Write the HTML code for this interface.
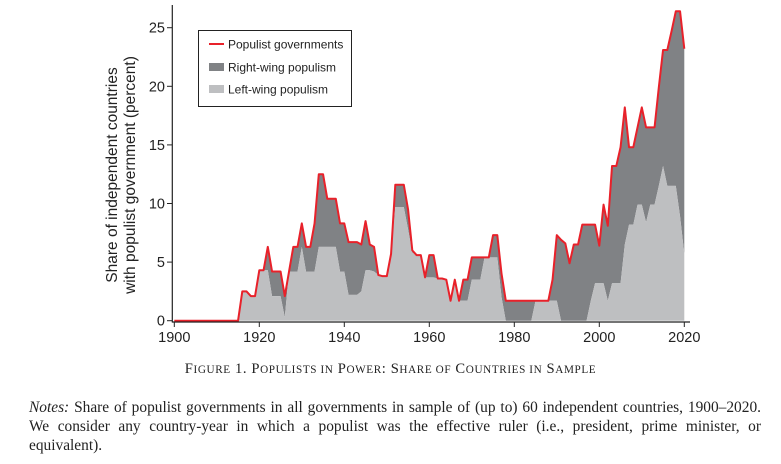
<!DOCTYPE html>
<html><head><meta charset="utf-8"><style>
body{margin:0;background:#fff;width:781px;height:464px;overflow:hidden;position:relative;font-family:"Liberation Serif",serif;}
#chart{position:absolute;left:0;top:0;}
#caption{position:absolute;left:0;width:781px;top:361px;text-align:center;font-size:14.6px;color:#222;letter-spacing:0.6px;white-space:nowrap;}
#caption .s{font-size:11.2px;}
#notes{position:absolute;left:29px;width:732px;top:399px;font-size:15.4px;line-height:18.8px;text-align:justify;color:#222;}
</style></head><body>
<svg id="chart" width="781" height="355" font-family="Liberation Sans, sans-serif"></svg>
<div id="caption">F<span class="s">IGURE</span> 1. P<span class="s">OPULISTS IN</span> P<span class="s">OWER</span>: S<span class="s">HARE OF</span> C<span class="s">OUNTRIES IN</span> S<span class="s">AMPLE</span></div>
<div id="notes"><i>Notes:</i> Share of populist governments in all governments in sample of (up to) 60 independent countries, 1900–2020. We consider any country-year in which a populist was the effective ruler (i.e., president, prime minister, or equivalent).</div>
<script>
const startYear = 1900;
const populistTotal = [0,0,0,0,0,0,0,0,0,0,0,0,0,0,0,0,
2.5,2.5,2.1,2.1,4.3,4.3,6.3,4.2,4.2,4.2,2.1,4.2,6.3,6.3,8.3,6.3,6.3,8.3,12.5,12.5,10.4,10.4,10.4,8.3,8.3,6.7,6.7,6.7,6.5,8.5,6.5,6.3,3.9,3.8,3.8,5.7,11.6,11.6,11.6,9.5,6.0,5.6,5.6,3.7,5.6,5.6,3.6,3.6,3.5,1.7,3.5,1.7,3.5,3.5,5.4,5.4,5.4,5.4,5.4,7.3,7.3,4.0,1.7,1.7,1.7,1.7,1.7,1.7,1.7,1.7,1.7,1.7,1.7,3.5,7.3,6.9,6.6,4.9,6.5,6.5,8.2,8.2,8.2,8.2,6.4,9.9,8.1,13.2,13.2,14.8,18.2,14.8,14.8,16.5,18.2,16.5,16.5,16.5,19.9,23.1,23.1,24.7,26.4,26.4,23.2];
const leftWing = [0,0,0,0,0,0,0,0,0,0,0,0,0,0,0,0,
2.5,2.5,2.1,2.1,4.3,4.3,4.3,2.1,2.1,2.1,0.3,4.2,4.2,4.2,6.3,4.2,4.2,4.2,6.3,6.3,6.3,6.3,6.3,4.2,4.2,2.2,2.2,2.2,2.5,4.3,4.3,4.2,3.9,3.8,3.8,5.7,9.7,9.7,9.7,7.8,5.8,5.6,5.6,3.7,3.7,3.7,3.6,3.6,3.5,1.7,3.5,1.7,1.7,1.7,3.5,3.5,3.5,5.4,5.4,5.4,5.4,2.0,0,0,0,0,0,0,0,1.7,1.7,1.7,1.7,1.7,1.7,0,0,0,0,0,0,0,1.7,3.2,3.2,3.2,1.7,3.2,3.2,3.2,6.5,8.2,8.2,9.9,9.9,8.4,9.9,9.9,11.5,13.2,11.5,11.5,11.5,8.9,5.7];
const xTicks = [1900,1920,1940,1960,1980,2000,2020];
const yTicks = [0,5,10,15,20,25];

const NS='http://www.w3.org/2000/svg';
const svg=document.getElementById('chart');
const X0=174.3, PX_YR=4.25, Y0=320.7, PX_U=11.72;
const xs=y=>X0+(y-1900)*PX_YR;
const ys=v=>Y0-v*PX_U;
function mk(tag,attrs){const e=document.createElementNS(NS,tag);for(const k in attrs)e.setAttribute(k,attrs[k]);svg.appendChild(e);return e;}
function areaPath(top,bottom){
  let d='';
  top.forEach((v,i)=>{d+=(i?'L':'M')+xs(startYear+i).toFixed(2)+','+ys(v).toFixed(2);});
  for(let i=bottom.length-1;i>=0;i--)d+='L'+xs(startYear+i).toFixed(2)+','+ys(bottom[i]).toFixed(2);
  return d+'Z';
}
const zeros=leftWing.map(()=>0);
const right=mk('path',{d:areaPath(populistTotal,leftWing),fill:'#808285'});


const left=mk('path',{d:areaPath(leftWing,zeros),fill:'#bebfc1'});


let ld='';populistTotal.forEach((v,i)=>{ld+=(i?'L':'M')+xs(startYear+i).toFixed(2)+','+ys(v).toFixed(2);});
const line=mk('path',{d:ld,fill:'none',stroke:'#e8212a','stroke-width':2,'stroke-linejoin':'round'});


const ya=mk('line',{x1:172.3,y1:5,x2:172.3,y2:322.5,stroke:'#222','stroke-width':1.2});


const xa=mk('line',{x1:172,y1:322,x2:690,y2:322,stroke:'#222','stroke-width':1.2});


yTicks.forEach(t=>{
  const tk=mk('line',{x1:167,y1:ys(t),x2:172.3,y2:ys(t),stroke:'#222','stroke-width':1});
  
  
  const tx=mk('text',{x:165,y:ys(t)+5,'text-anchor':'end','font-size':14.5,fill:'#222'});
  tx.textContent=t;
  
  
});
xTicks.forEach(t=>{
  const tk=mk('line',{x1:xs(t),y1:322,x2:xs(t),y2:327,stroke:'#222','stroke-width':1});
  
  
  const tx=mk('text',{x:xs(t),y:342,'text-anchor':'middle','font-size':14.5,fill:'#222'});
  tx.textContent=t;
  
  
});
const yt=mk('text',{transform:'translate(117,175) rotate(-90)','text-anchor':'middle','font-size':15.5,fill:'#222'});


const t1=document.createElementNS(NS,'tspan');t1.setAttribute('x',0);t1.setAttribute('y',0);t1.textContent='Share of independent countries';yt.appendChild(t1);
const t2=document.createElementNS(NS,'tspan');t2.setAttribute('x',0);t2.setAttribute('y',18);t2.textContent='with populist government (percent)';yt.appendChild(t2);
const lb=mk('rect',{x:198.5,y:30.5,width:153,height:76,fill:'#fff',stroke:'#222','stroke-width':1});


const items=[['Populist governments','line','#e8212a',44],['Right-wing populism','box','#808285',67],['Left-wing populism','box','#bebfc1',89]];
items.forEach(([lab,kind,col,yy])=>{
  if(kind==='line'){const m=mk('line',{x1:209,y1:yy,x2:224,y2:yy,stroke:col,'stroke-width':2});}
  else{const m=mk('rect',{x:209,y:yy-4,width:15,height:8,fill:col});}
  const tx=mk('text',{x:228,y:yy+4.5,'font-size':12,fill:'#222'});
  tx.textContent=lab;
  
  
});
</script>
</body></html>
